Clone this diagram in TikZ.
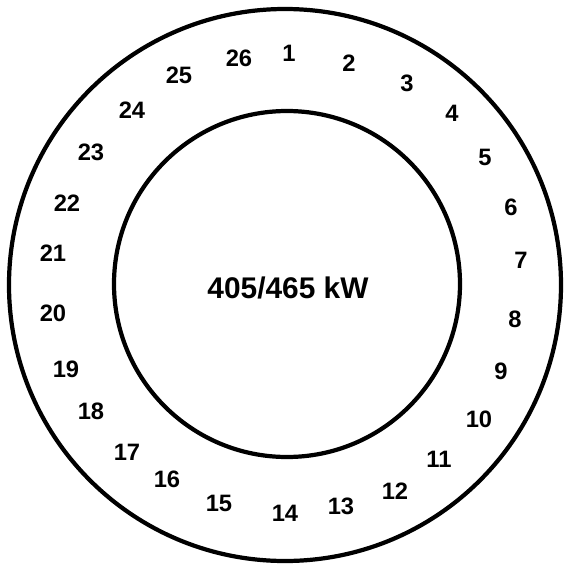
\documentclass[tikz,border=0pt]{standalone}
\usepackage{fontspec}
\setmainfont{Liberation Sans}
\usetikzlibrary{positioning}

\begin{document}
\begin{tikzpicture}[ring/.style={line width=2.4pt}, num/.style={font=\fontsize{13.5}{16}\selectfont\bfseries}]
        \useasboundingbox (-5.70,-5.66) rectangle (5.58,5.70);

        \draw[ring] (0,0) circle (5.52);
        \draw[ring] (0.04,0.02) circle (3.46);

        \node[font=\fontsize{17}{20}\selectfont\bfseries] (rating) at (0.06,-0.06) {405/465 kW};

        \node[num] (n1) at (0.08,4.64) {1};
        \node[num] (n2) at (1.28,4.44) {2};
        \node[num] (n3) at (2.44,4.04) {3};
        \node[num] (n4) at (3.34,3.44) {4};
        \node[num] (n5) at (4.00,2.56) {5};
        \node[num] (n6) at (4.52,1.56) {6};
        \node[num] (n7) at (4.72,0.50) {7};
        \node[num] (n8) at (4.60,-0.68) {8};
        \node[num] (n9) at (4.32,-1.72) {9};
        \node[num] (n10) at (3.88,-2.68) {10};
        \node[num] (n11) at (3.08,-3.48) {11};
        \node[num] (n12) at (2.20,-4.12) {12};
        \node[num] (n13) at (1.12,-4.42) {13};
        \node[num] (n14) at (0.00,-4.56) {14};
        \node[num] (n15) at (-1.32,-4.36) {15};
        \node[num] (n16) at (-2.36,-3.88) {16};
        \node[num] (n17) at (-3.16,-3.34) {17};
        \node[num] (n18) at (-3.88,-2.52) {18};
        \node[num] (n19) at (-4.38,-1.68) {19};
        \node[num] (n20) at (-4.64,-0.56) {20};
        \node[num] (n21) at (-4.64,0.64) {21};
        \node[num] (n22) at (-4.36,1.64) {22};
        \node[num] (n23) at (-3.88,2.66) {23};
        \node[num] (n24) at (-3.06,3.50) {24};
        \node[num] (n25) at (-2.12,4.20) {25};
        \node[num] (n26) at (-0.92,4.54) {26};
    \end{tikzpicture}
\end{document}
